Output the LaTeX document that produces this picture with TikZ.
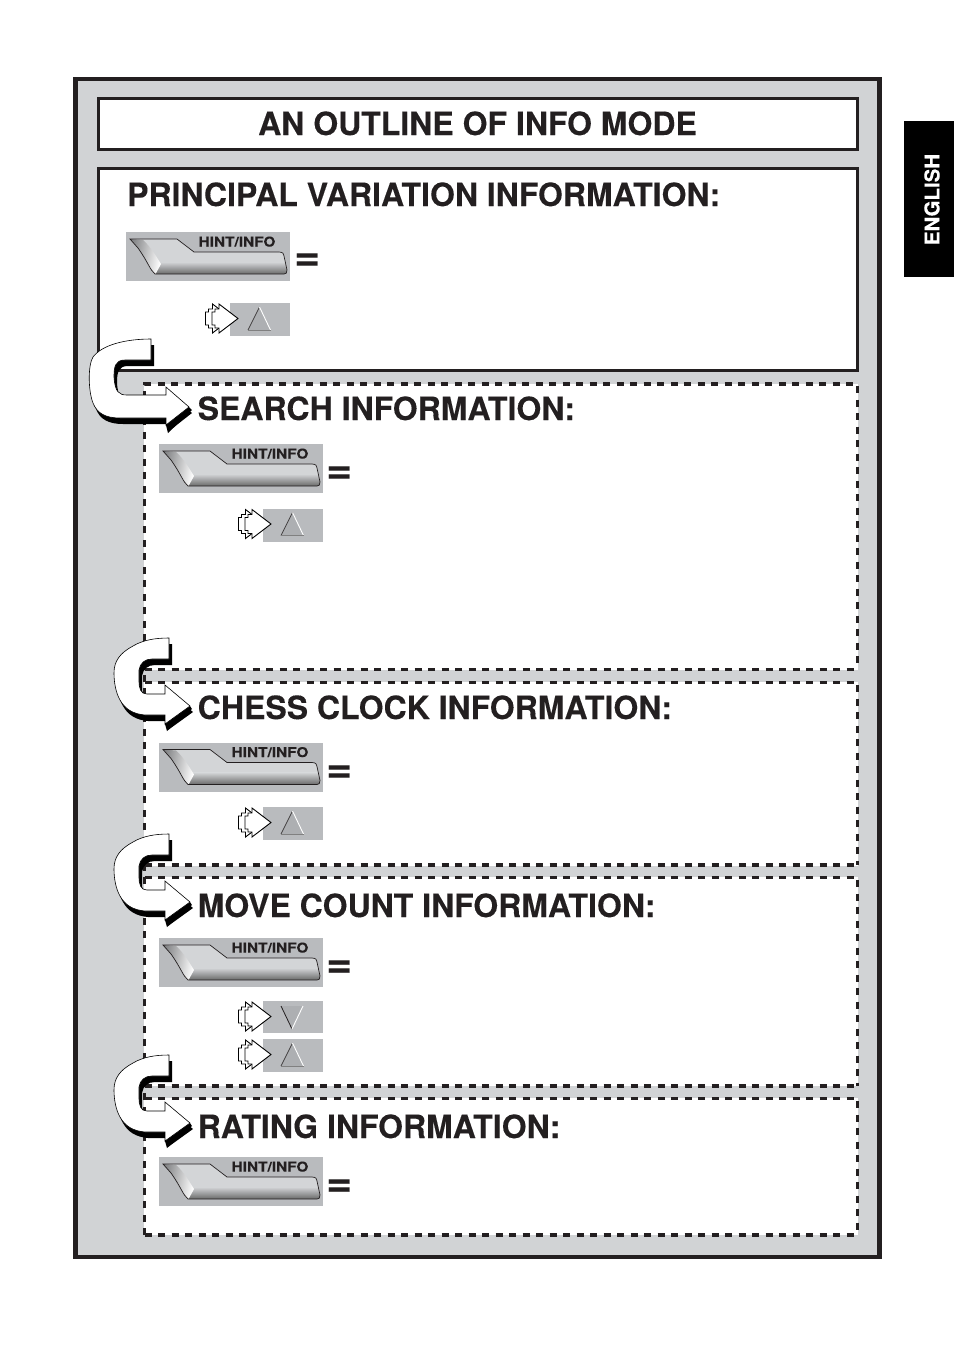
\documentclass[tikz,border=0pt]{standalone}
\usepackage{fontspec}
\setmainfont{TeX Gyre Heros}[BoldFeatures={FakeBold=0.15}]
\definecolor{panelgray}{HTML}{D1D3D5}
\definecolor{keygray}{HTML}{B9BBBE}
\definecolor{keydark}{HTML}{ADAFB2}
\definecolor{lightface}{HTML}{D3D5D7}
\definecolor{ink}{HTML}{231F20}
\tikzset{
  x=1pt,y=-1pt,
  heading/.style={font=\fontsize{32}{32}\selectfont\bfseries,text=ink,anchor=base west,inner sep=0pt},
  eqsign/.style={font=\fontsize{44}{44}\selectfont\bfseries,text=ink,anchor=base west,inner sep=0pt},
  keylabel/.style={font=\fontsize{13.4}{14}\selectfont\bfseries,text=ink,anchor=base,inner sep=0pt},
  solidbox/.style={draw=ink,fill=white,line width=3pt},
  dashedge/.style={draw=ink,line width=3.2pt,dash pattern=on 7pt off 6.5pt},
  keyface/.style={fill=keygray},
  iconarrow/.style={draw=black,fill=white,line width=0.9pt,line join=miter},
}
% hint/info button: #1 name prefix, #2 x, #3 y
\newcommand{\hintbutton}[3]{%
  \begin{scope}[shift={(#2,#3)}]
    \fill[keyface] (0,0) rectangle (164,49);
    \begin{scope}
      \clip (4,7) -- (51,7) -- (68,20) -- (153,20) .. controls (157,20) and (158,22) .. (158,24)
        -- (161,38) .. controls (161,41) and (160,42) .. (158,42) -- (29,42)
        .. controls (24,38) and (22,30) .. (12,16) -- cycle;
      \fill[lightface] (0,0) rectangle (164,49);
      \shade[top color=lightface,bottom color=black!62] (0,30) rectangle (164,43);
      \shade[left color=keygray!70!black,right color=white,shading angle=80] (4,7) -- (17,8)
        .. controls (24,14) and (30,24) .. (35,32) -- (29,43) -- (4,43) -- cycle;
    \end{scope}
    \draw[ink,line width=0.7pt] (4,7) -- (51,7) -- (68,20) -- (153,20) .. controls (157,20) and (158,22) .. (158,24)
        -- (161,38) .. controls (161,41) and (160,42) .. (158,42) -- (29,42)
        .. controls (24,38) and (22,30) .. (12,16) -- cycle;
    \node[keylabel] (#1) at (111,14.5) {\scalebox{1.15}[1]{HINT/INFO}};
  \end{scope}}
% stepping arrows beside a key: relative to key's top-left
\newcommand{\stepicon}{%
  \foreach \dx in {-6.5,0} {
    \draw[iconarrow,shift={(\dx,0)}] (8,15.5) -- (-11,1) -- (-11,6) -- (-15,6) -- (-15,9) -- (-18,9) -- (-18,22) -- (-15,22) -- (-15,25) -- (-11,25) -- (-11,30) -- cycle;
  }}
\newcommand{\upkey}[2]{%
  \begin{scope}[shift={(#1,#2)}]
    \fill[keyface] (0,0) rectangle (60,33);
    \fill[keydark] (18,27) -- (29.5,4) -- (40.5,27) -- cycle;
    \draw[ink!85,line width=0.7pt] (18,27) -- (29.5,4);
    \draw[white,line width=0.9pt] (29.5,4) -- (40.5,27);
    \draw[black!50,line width=0.5pt] (18,27) -- (40.5,27);
    \stepicon
  \end{scope}}
\newcommand{\downkey}[2]{%
  \begin{scope}[shift={(#1,#2)}]
    \fill[keyface] (0,0) rectangle (60,32);
    \fill[keydark] (18,5) -- (29,28) -- (40,5) -- cycle;
    \draw[ink,line width=0.8pt] (18,5) -- (29,28);
    \draw[white,line width=0.9pt] (29,28) -- (40,5);
    \stepicon
  \end{scope}}
\newcommand{\firstarrowpath}{(151,339) .. controls (125,339) and (102,345) .. (93,357)
    .. controls (88,365) and (88,390) .. (93,403) .. controls (97,413) and (105,418) .. (120,418)
    -- (166,418) -- (166,425) -- (189,407) -- (166,387) -- (166,395) -- (127,395)
    .. controls (119,395) and (115,392) .. (114,377) .. controls (114,367) and (115,360) .. (125,360)
    -- (151,360) -- cycle}
\newcommand{\firstarrow}{%
  \fill[black,shift={(3,6)}] \firstarrowpath;
  \fill[black] (189,407) -- (166,425) -- (168,433) -- (192,410) -- cycle;
  \draw[black,fill=white,line width=0.6pt] \firstarrowpath;}
\newcommand{\otherarrowpath}{(169,1055) .. controls (155,1055) and (143,1057) .. (133,1063)
    .. controls (120,1070) and (114,1078) .. (114,1090) .. controls (114,1100) and (116,1110) .. (120,1117)
    .. controls (125,1126) and (133,1131) .. (145,1132)
    -- (165,1132) -- (165,1141) -- (190,1123) -- (165,1102) -- (165,1111) -- (147,1111)
    .. controls (141,1111) and (139,1106) .. (139,1098) -- (139,1087)
    .. controls (140,1080) and (145,1076) .. (152,1076) -- (169,1076) -- cycle}
\newcommand{\otherarrow}[1]{%
  \begin{scope}[shift={(0,#1)}]
    \fill[black,shift={(3,6)}] \otherarrowpath;
    \fill[black] (190,1123) -- (165,1141) -- (167,1148) -- (192,1126) -- cycle;
    \draw[black,fill=white,line width=0.6pt] \otherarrowpath;
  \end{scope}}
\begin{document}
\begin{tikzpicture}
  \useasboundingbox (0,0) rectangle (954,1345);
  \fill[white] (0,0) rectangle (954,1345);
  % panel
  \draw[ink,fill=panelgray,line width=4.5pt] (75.5,79) rectangle (879.5,1257);
  \draw[solidbox] (98,98.5) rectangle (857.5,149.5);
  \draw[solidbox] (98,168.5) rectangle (857.5,370.5);
  % dashed sections
  \fill[white] (144,384) rectangle (858,670);
  \fill[white] (144,682) rectangle (858,866);
  \fill[white] (144,877) rectangle (858,1086);
  \fill[white] (144,1098) rectangle (858,1235);
  \draw[dashedge] (144.5,1235) -- (144.5,384) -- (857.5,384) -- (857.5,669);
  \draw[dashedge] (144.5,669.5) -- (857.5,669.5);
  \draw[dashedge] (144.5,682.5) -- (857.5,682.5) -- (857.5,865);
  \draw[dashedge] (144.5,865) -- (857.5,865);
  \draw[dashedge] (144.5,877.5) -- (857.5,877.5) -- (857.5,1086);
  \draw[dashedge] (144.5,1086) -- (857.5,1086);
  \draw[dashedge] (144.5,1098.5) -- (857.5,1098.5) -- (857.5,1235);
  \draw[dashedge] (144.5,1235) -- (857.5,1235);
  % language tab
  \fill[black] (904,121) rectangle (954,277);
  \node[rotate=90,text=white,font=\fontsize{20.5}{21}\selectfont\bfseries,inner sep=0pt] (lang) at (932,199.5) {ENGLISH};
  % headings
  \node[heading] (title) at (258,135) {AN OUTLINE OF INFO MODE};
  \node[heading] (pv) at (127,206) {PRINCIPAL VARIATION INFORMATION:};
  \node[heading] (search) at (197.5,420) {SEARCH INFORMATION:};
  \node[heading] (clock) at (197.5,719) {CHESS CLOCK INFORMATION:};
  \node[heading] (move) at (197.5,917) {MOVE COUNT INFORMATION:};
  \node[heading] (rating) at (197.5,1138) {RATING INFORMATION:};
  % buttons
  \hintbutton{hintA}{126}{232}
  \hintbutton{hintB}{159}{444}
  \hintbutton{hintC}{159}{742.5}
  \hintbutton{hintD}{159}{938}
  \hintbutton{hintE}{159}{1157}
  \node[eqsign] (eqA) at (294,270.5) {=};
  \node[eqsign] (eqB) at (326,483.5) {=};
  \node[eqsign] (eqC) at (326,782.5) {=};
  \node[eqsign] (eqD) at (326,977.5) {=};
  \node[eqsign] (eqE) at (326,1196.5) {=};
  % keys
  \upkey{230}{303}
  \upkey{263}{508.5}
  \upkey{263}{807}
  \downkey{263}{1001}
  \upkey{263}{1039}
  % curved arrows
  \firstarrow
  \otherarrow{-417}
  \otherarrow{-221}
  \otherarrow{0}
\end{tikzpicture}
\end{document}
